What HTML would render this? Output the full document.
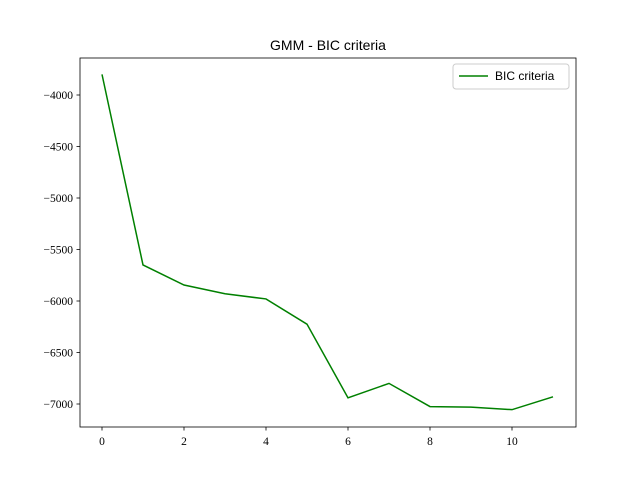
<!DOCTYPE html>
<html><head><meta charset="utf-8"><style>
body{margin:0;background:#fff;}
svg text{font-family:"Liberation Serif",serif;font-size:11.5px;fill:#000;}
</style></head><body>
<svg id="c" width="640" height="480" xmlns="http://www.w3.org/2000/svg">
<rect width="640" height="480" fill="#fff"/>
<text x="328" y="50" text-anchor="middle" style="font-family:'Liberation Sans',sans-serif;font-size:14px">GMM - BIC criteria</text>
<g id="ax"></g>
<rect x="80" y="58" width="496" height="369" fill="none" stroke="#000" stroke-width="0.8"/>
<g>
<rect x="453" y="64" width="116" height="25" rx="3" fill="#fff" stroke="#ccc"/>
<line x1="459" y1="76" x2="488" y2="76" stroke="green" stroke-width="1.5"/>
<text x="495" y="80" style="font-family:'Liberation Sans',sans-serif;font-size:12px">BIC criteria</text>
</g>
</svg>
<script>
const xs=[0,1,2,3,4,5,6,7,8,9,10,11];
const bic=[-3800,-5650,-5845,-5930,-5980,-6225,-6940,-6800,-7025,-7030,-7055,-6930];
const xTicks=[0,2,4,6,8,10];
const yTicks=[-4000,-4500,-5000,-5500,-6000,-6500,-7000];
const X=v=>102+v*41;
const Y=v=>95+(-4000-v)*0.103;
const ns="http://www.w3.org/2000/svg";
const g=document.getElementById('ax');
function mk(t,a){const e=document.createElementNS(ns,t);for(const k in a)e.setAttribute(k,a[k]);g.appendChild(e);return e;}
xTicks.forEach(v=>{
 const l=mk('line',{x1:X(v),x2:X(v),y1:427,y2:430.5,stroke:'#000','stroke-width':0.8});
 
 
 const t=mk('text',{x:X(v),y:445,'text-anchor':'middle'});t.textContent=v;
 
 
});
yTicks.forEach(v=>{
 const l=mk('line',{x1:76.5,x2:80,y1:Y(v),y2:Y(v),stroke:'#000','stroke-width':0.8});
 
 
 const t=mk('text',{x:73,y:Y(v)+4,'text-anchor':'end'});t.textContent='\u2212'+Math.abs(v);
 
 
});
const p=mk('polyline',{points:xs.map((x,i)=>X(x)+','+Y(bic[i])).join(' '),fill:'none',stroke:'green','stroke-width':1.5});


</script>
</body></html>
